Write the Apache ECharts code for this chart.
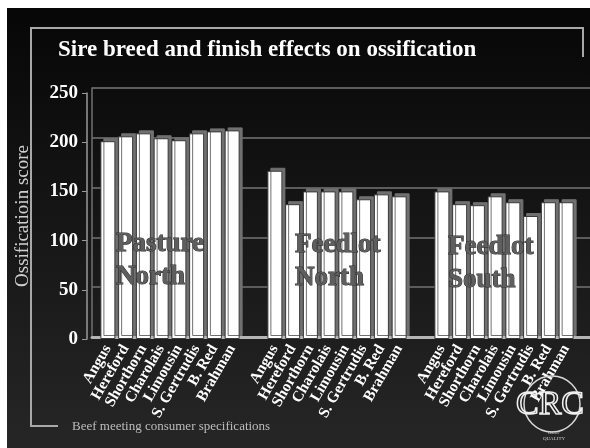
<!DOCTYPE html>
<html>
<head>
<meta charset="utf-8">
<script src="https://cdn.jsdelivr.net/npm/echarts@6/dist/echarts.min.js"></script>
<style>
html, body { margin: 0; padding: 0; background: #fff; }
#chart { width: 590px; height: 448px; }
</style>
</head>
<body>
<div id="chart"></div>
<script>
// data
var breeds = ['Angus', 'Hereford', 'Shorthorn', 'Charolais', 'Limousin', 'S. Gertrudis', 'B. Red', 'Brahman'];
var pastureNorth = [201, 206, 209, 204, 202, 209, 211, 212];
var feedlotNorth = [171, 137, 150, 150, 150, 142, 147, 145];
var feedlotSouth = [150, 137, 136, 145, 139, 125, 139, 139];
var yMin = 0, yMax = 250, yStep = 50;
var groupNames = ['Pasture\nNorth', 'Feedlot\nNorth', 'Feedlot\nSouth'];

var serif = '"Liberation Serif", "DejaVu Serif", serif';
var groupLeft = [99, 266, 433];
var groupWidth = 142;

var chart = echarts.init(document.getElementById('chart'));

var grids = groupLeft.map(function (l) {
  return { left: l, width: groupWidth, top: 93, bottom: 109, outerBoundsMode: 'none' };
});
// back wall of the 3d plot, a bit up and to the right
grids.push({ left: 92, right: 0, top: 88, bottom: 111, outerBoundsMode: 'none' });

var xAxes = groupLeft.map(function (l, i) {
  return {
    type: 'category',
    gridIndex: i,
    data: breeds,
    axisLine: { show: false },
    axisTick: { show: false },
    axisLabel: {
      interval: 0,
      rotate: 60,
      margin: 7,
      color: '#fff',
      fontFamily: serif,
      fontWeight: 'bold',
      fontSize: 15.5
    }
  };
});
xAxes.push({
  type: 'value', gridIndex: 3, min: 0, max: 1,
  axisLine: { show: true, lineStyle: { color: '#b5b5b5', width: 3 } },
  axisTick: { show: false },
  axisLabel: { show: false },
  splitLine: { show: false }
});

var yAxes = [{
  type: 'value',
  gridIndex: 0,
  min: yMin, max: yMax, interval: yStep,
  offset: 12,
  name: 'Ossificatioin score',
  nameLocation: 'middle',
  nameGap: 54,
  nameTextStyle: { color: '#cfcfcf', fontFamily: serif, fontSize: 19 },
  axisLine: { show: true, lineStyle: { color: '#9a9a9a', width: 1.5 } },
  axisTick: { show: true, length: 5, lineStyle: { color: '#9a9a9a' } },
  axisLabel: { color: '#fff', fontFamily: serif, fontWeight: 'bold', fontSize: 19, margin: 9 },
  splitLine: { show: false }
}, {
  type: 'value', gridIndex: 1, min: yMin, max: yMax, interval: yStep, show: false
}, {
  type: 'value', gridIndex: 2, min: yMin, max: yMax, interval: yStep, show: false
}, {
  type: 'value', gridIndex: 3, min: yMin, max: yMax, interval: yStep,
  axisLine: { show: true, lineStyle: { color: '#707070', width: 1.5 } },
  axisTick: { show: false },
  axisLabel: { show: false },
  splitLine: { show: true, lineStyle: { color: '#5c5c5c', width: 2 } }
}];

function barSeries(data, idx) {
  return {
    type: 'bar',
    xAxisIndex: idx,
    yAxisIndex: idx,
    data: data,
    barWidth: 15,
    itemStyle: {
      color: '#ffffff',
      borderColor: '#3a3a3a',
      borderWidth: 1,
      shadowColor: '#707070',
      shadowBlur: 0,
      shadowOffsetX: 3,
      shadowOffsetY: -3
    },
    silent: true
  };
}

var groupText = [
  { x: 116, y: 228, text: groupNames[0] },
  { x: 295, y: 229, text: groupNames[1] },
  { x: 448, y: 231, text: groupNames[2] }
].map(function (g) {
  return {
    type: 'text', x: g.x, y: g.y, z: 50,
    style: {
      text: g.text,
      font: 'bold 27px ' + serif,
      lineHeight: 33,
      fill: '#5e5e5e',
      stroke: '#2c2c2c',
      lineWidth: 1
    }
  };
});

chart.setOption({
  backgroundColor: {
    type: 'linear', x: 0, y: 0, x2: 0, y2: 1,
    colorStops: [{ offset: 0, color: '#060606' }, { offset: 1, color: '#262626' }]
  },
  animation: false,
  title: {
    text: 'Sire breed and finish effects on ossification',
    left: 53, top: 34,
    textStyle: { color: '#fff', fontFamily: serif, fontWeight: 'bold', fontSize: 23 }
  },
  grid: grids,
  xAxis: xAxes,
  yAxis: yAxes,
  series: [
    barSeries(pastureNorth, 0),
    barSeries(feedlotNorth, 1),
    barSeries(feedlotSouth, 2)
  ],
  graphic: groupText.concat([
    // white margins of the scanned slide
    { type: 'rect', z: 100, shape: { x: 0, y: 0, width: 590, height: 8 }, style: { fill: '#fff' } },
    { type: 'rect', z: 100, shape: { x: 0, y: 0, width: 7, height: 448 }, style: { fill: '#fff' } },
    // slide frame
    {
      type: 'polyline', z: 10,
      shape: { points: [[58, 426], [31, 426], [31, 28], [583, 28], [583, 57]] },
      style: { stroke: '#a8a8a8', lineWidth: 2, fill: null }
    },
    {
      type: 'text', x: 72, y: 427, z: 10,
      style: { text: 'Beef meeting consumer specifications', font: '13px ' + serif, fill: '#bdbdbd', verticalAlign: 'middle' }
    },
    // CRC logo
    {
      type: 'circle', z: 10,
      shape: { cx: 552, cy: 404, r: 28 },
      style: { stroke: '#d8d8d8', lineWidth: 1.5, fill: null }
    },
    {
      type: 'text', x: 550, y: 405, z: 11,
      style: { text: 'CRC', font: '34px ' + serif, fill: 'rgba(0,0,0,0)', stroke: '#f0f0f0', lineWidth: 1.5, align: 'center', verticalAlign: 'middle' }
    },
    {
      type: 'text', x: 554, y: 436, z: 11,
      style: { text: 'BEEF\nQUALITY', font: '5px ' + serif, fill: '#cfcfcf', align: 'center', verticalAlign: 'middle', lineHeight: 6 }
    }
  ])
});
</script>
</body>
</html>
